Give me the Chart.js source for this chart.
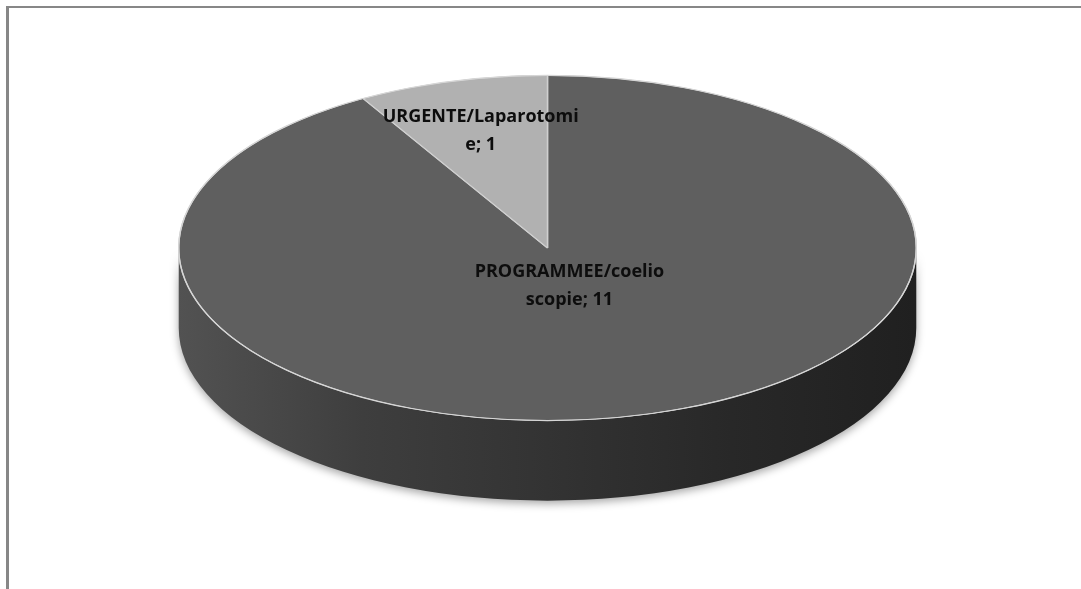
<!DOCTYPE html>
<html>
<head>
<meta charset="utf-8">
<script src="https://cdn.jsdelivr.net/npm/chart.js@4.4.1/dist/chart.umd.min.js"></script>
<style>
    html, body { margin: 0; padding: 0; background: #fff; }
    #wrap { position: relative; width: 1081px; height: 589px; overflow: hidden; }
    #frame { position: absolute; left: 6px; top: 6px; right: -10px; bottom: -10px;
             border-top: 2px solid #878787; border-left: 3px solid #878787; }
    #pieChart { position: absolute; left: 0; top: 0; }
</style>
</head>
<body>
<div id="wrap">
    <div id="frame"></div>
    <canvas id="pieChart" width="1081" height="589"></canvas>
</div>
<script>
// Interventions by type
const categories = ['PROGRAMMEE/coelioscopie', 'URGENTE/Laparotomie'];
const counts = [11, 1];

// Top face colours and side wall shading (left -> right) per slice
const topColors = ['#5f5f5f', '#b1b1b1'];
const sideShades = [
    ['#525252', '#3e3e3e', '#333333', '#282828', '#202020'],
    ['#9a9a9a', '#8a8a8a', '#7c7c7c', '#6e6e6e', '#626262']
];
// Label distance from centre, as a fraction of the radius
const labelDepth = [0.23, 0.70];

// Tilted view: horizontal stretch, vertical squash and wall height
const view3d = { stretch: 1.49, tilt: 0.6976, depth: 80 };
const labelFont = 'bold 18px "Open Sans"';
const labelMaxWidth = 197;

// parts of [start, end] that fall in the front half (0..PI) of the disc
function frontSpans(s, e) {
    const spans = [];
    for (let k = -1; k <= 1; k++) {
        const lo = Math.max(s, k * 2 * Math.PI);
        const hi = Math.min(e, k * 2 * Math.PI + Math.PI);
        if (hi > lo) spans.push([lo, hi]);
    }
    return spans;
}

// break a label by characters so no line is wider than maxWidth
function wrapText(ctx, text, maxWidth) {
    const lines = [];
    let line = '';
    for (const ch of text) {
        if (line && ctx.measureText(line + ch).width > maxWidth) {
            lines.push(line);
            line = ch.trim() ? ch : '';
        } else {
            line += ch;
        }
    }
    if (line) lines.push(line);
    return lines;
}

const pie3d = {
    id: 'pie3d',
    beforeDatasetsDraw(chart) {
        const ctx = chart.ctx;
        const arcs = chart.getDatasetMeta(0).data;
        const { x, y, outerRadius: r } = arcs[0];
        const rx = r * view3d.stretch, ry = r * view3d.tilt;

        // side wall of each slice, front half only
        arcs.forEach((arc, i) => {
            frontSpans(arc.startAngle, arc.endAngle).forEach(([a0, a1]) => {
                const grad = ctx.createLinearGradient(x - rx, 0, x + rx, 0);
                const shades = sideShades[i];
                shades.forEach((c, j) => grad.addColorStop(j / (shades.length - 1), c));
                ctx.save();
                ctx.shadowColor = 'rgba(0,0,0,0.35)';
                ctx.shadowBlur = 8;
                ctx.shadowOffsetY = 3;
                ctx.beginPath();
                ctx.ellipse(x, y, rx, ry, 0, a0, a1, false);
                ctx.ellipse(x, y + view3d.depth, rx, ry, 0, a1, a0, true);
                ctx.closePath();
                ctx.fillStyle = grad;
                ctx.fill();
                ctx.restore();
            });
        });

        // squash the flat pie into the tilted top face
        ctx.save();
        ctx.translate(x, y);
        ctx.scale(view3d.stretch, view3d.tilt);
        ctx.translate(-x, -y);
    },
    afterDatasetsDraw(chart) {
        const ctx = chart.ctx;
        ctx.restore();
        const arcs = chart.getDatasetMeta(0).data;
        const { x, y, outerRadius: r } = arcs[0];

        // light rim round the top face
        ctx.save();
        ctx.beginPath();
        ctx.ellipse(x, y, r * view3d.stretch, r * view3d.tilt, 0, 0, 2 * Math.PI);
        ctx.strokeStyle = '#d6d6d6';
        ctx.lineWidth = 1.2;
        ctx.stroke();
        ctx.restore();

        // data labels "category; value"
        ctx.save();
        ctx.font = labelFont;
        ctx.fillStyle = '#0d0d0d';
        ctx.textAlign = 'center';
        ctx.textBaseline = 'middle';
        arcs.forEach((arc, i) => {
            const mid = (arc.startAngle + arc.endAngle) / 2;
            const d = arc.outerRadius * labelDepth[i];
            const lx = x + Math.cos(mid) * d * view3d.stretch;
            const ly = y + Math.sin(mid) * d * view3d.tilt;
            const text = chart.data.labels[i] + '; ' + chart.data.datasets[0].data[i];
            const lines = wrapText(ctx, text, labelMaxWidth);
            const lh = 28;
            lines.forEach((ln, k) => {
                ctx.fillText(ln, lx, ly + (k - (lines.length - 1) / 2) * lh);
            });
        });
        ctx.restore();
    }
};

const pieChart = new Chart(document.getElementById('pieChart'), {
    type: 'pie',
    data: {
        labels: categories,
        datasets: [{
            data: counts,
            backgroundColor: topColors,
            borderColor: '#cfcfcf',
            borderWidth: 1
        }]
    },
    options: {
        responsive: false,
        animation: false,
        events: [],
        layout: {
            padding: { left: 14, right: 0, top: 0, bottom: 93 }
        },
        plugins: {
            legend: { display: false },
            tooltip: { enabled: false }
        }
    },
    plugins: [pie3d]
});
</script>
</body>
</html>
